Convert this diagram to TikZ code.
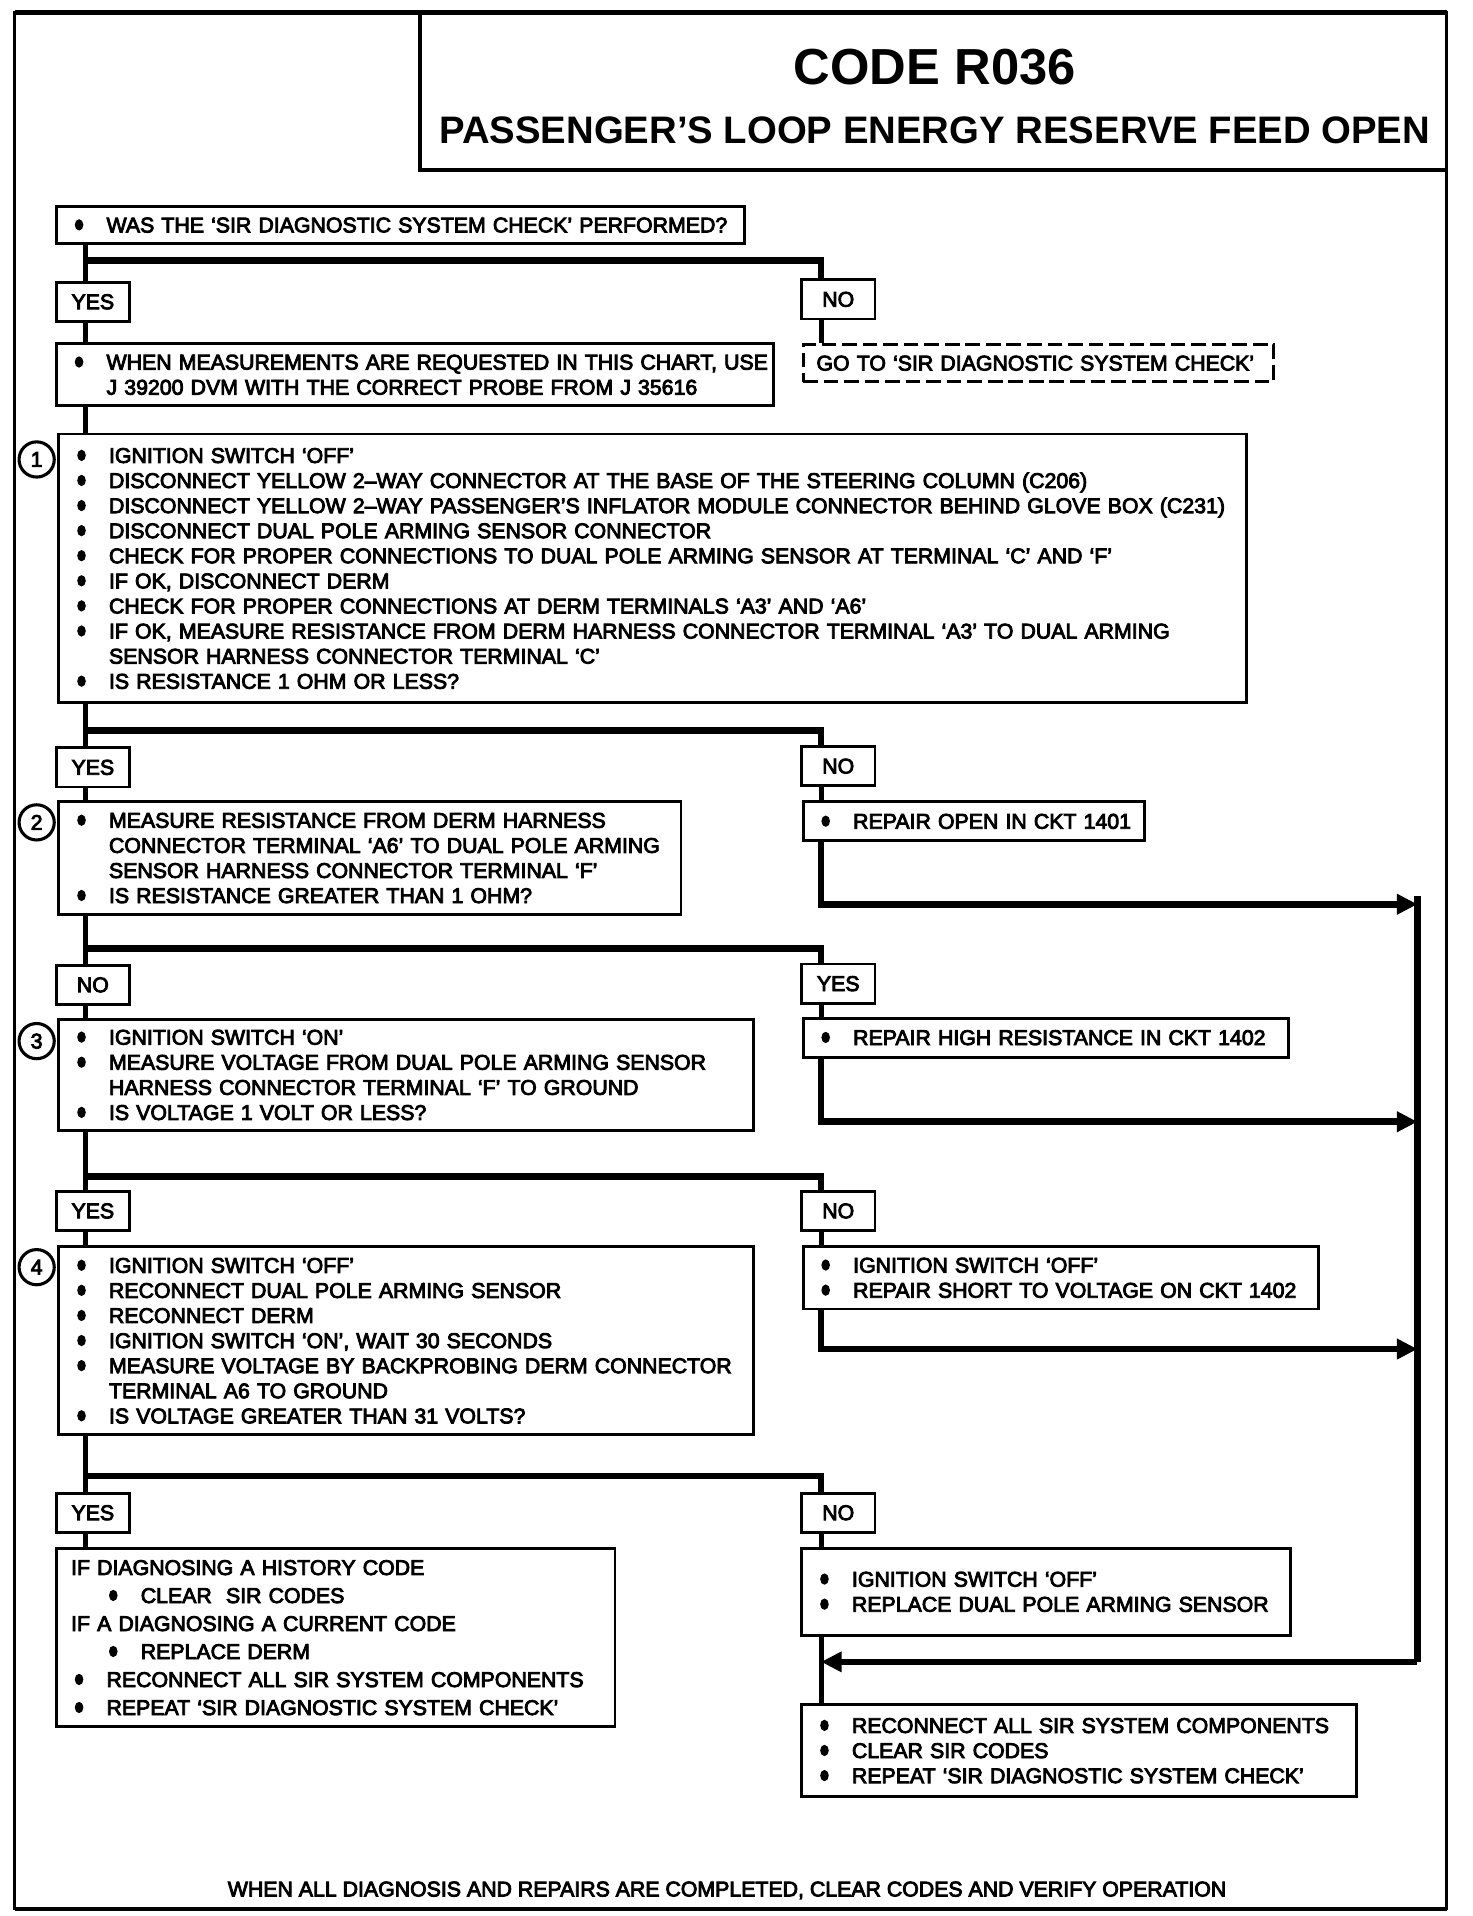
\documentclass[tikz,border=0pt]{standalone}
\usepackage{fontspec}
\setmainfont{Liberation Sans}
\newfontfamily\chartfont{Liberation Sans}[FakeBold=4]
\usetikzlibrary{arrows.meta}

\newcommand{\bodyfont}{\chartfont\fontsize{12.4}{14.6}\selectfont}
\newcommand{\dotmark}{\tikz[baseline=0pt]\fill (0,0) (2.5pt,4.4pt) ellipse [x radius=2.5pt, y radius=3.3pt];}
\newcommand{\bitem}[1]{\mbox{\makebox[0.65cm][l]{\dotmark}#1}}
\newcommand{\bnext}[1]{\mbox{\hspace*{0.65cm}#1}}

\begin{document}
\begin{tikzpicture}[x=0.025cm, y=-0.025cm,
  box/.style={draw, line width=1.7pt, anchor=north west, align=left,
    inner xsep=0.375cm, inner ysep=0pt, font=\bodyfont},
  answer/.style={draw, line width=1.6pt, minimum width=1.5cm,
    minimum height=0.8cm, inner sep=0pt, font=\bodyfont},
  stepnum/.style={draw, circle, line width=1.8pt, minimum size=0.72cm,
    inner sep=0pt, font=\bodyfont},
  trunk/.style={line width=2.8pt},
  branch/.style={line width=3.8pt},
  rail/.style={line width=3.6pt},
  arr/.style={-{Triangle[length=0.42cm,width=0.4cm]}}]

  \useasboundingbox (0,0) rectangle (1205,1568);

  % frame and title
  \draw[line width=1.6pt] (12,10) rectangle (1184,1562);
  \draw[line width=2.9pt] (12,10) -- (1184,10);
  \draw[line width=2.2pt] (12,1562) -- (1184,1562);
  \draw[line width=2.4pt] (344,10) -- (344,139) -- (1184,139);
  \node[font=\fontsize{29.5}{32}\selectfont\bfseries] (code) at (765,55) {CODE R036};
  \node[font=\fontsize{22.3}{25}\selectfont\bfseries] (title) at (765,107)
    {PASSENGER’S LOOP ENERGY RESERVE FEED OPEN};

  \coordinate (tk) at (70,0);
  \coordinate (nk) at (672,0);

  % start
  \node[box, text width=13.325cm, minimum height=0.75cm] (qa) at (45,168)
    {\bitem{WAS THE ‘SIR DIAGNOSTIC SYSTEM CHECK’ PERFORMED?}};
  \node[answer] (yes0) at (76,247) {YES};
  \node[answer] (no0) at (686,245) {NO};
  \node[box, text width=13.925cm, minimum height=1.275cm] (qb) at (45,280)
    {\bitem{WHEN MEASUREMENTS ARE REQUESTED IN THIS CHART, USE}\\
     \bnext{J 39200 DVM WITH THE CORRECT PROBE FROM J 35616}};
  \node[box, dash pattern=on 0.3cm off 0.12cm, inner xsep=0.275cm,
    text width=9.075cm, minimum height=0.75cm] (goto) at (656,281)
    {GO TO ‘SIR DIAGNOSTIC SYSTEM CHECK’};

  % step 1
  \node[box, text width=23.55cm, minimum height=5.5cm] (q1) at (47,354)
    {\bitem{IGNITION SWITCH ‘OFF’}\\
     \bitem{DISCONNECT YELLOW 2–WAY CONNECTOR AT THE BASE OF THE STEERING COLUMN (C206)}\\
     \bitem{DISCONNECT YELLOW 2–WAY PASSENGER’S INFLATOR MODULE CONNECTOR BEHIND GLOVE BOX (C231)}\\
     \bitem{DISCONNECT DUAL POLE ARMING SENSOR CONNECTOR}\\
     \bitem{CHECK FOR PROPER CONNECTIONS TO DUAL POLE ARMING SENSOR AT TERMINAL ‘C’ AND ‘F’}\\
     \bitem{IF OK, DISCONNECT DERM}\\
     \bitem{CHECK FOR PROPER CONNECTIONS AT DERM TERMINALS ‘A3’ AND ‘A6’}\\
     \bitem{IF OK, MEASURE RESISTANCE FROM DERM HARNESS CONNECTOR TERMINAL ‘A3’ TO DUAL ARMING}\\
     \bnext{SENSOR HARNESS CONNECTOR TERMINAL ‘C’}\\
     \bitem{IS RESISTANCE 1 OHM OR LESS?}};
  \node[stepnum] (n1) at (30,376) {1};
  \node[answer] (yes1) at (76,628) {YES};
  \node[answer] (no1) at (686,627) {NO};
  \node[box, text width=6.225cm, minimum height=0.8cm] (fix1) at (656,655)
    {\bitem{REPAIR OPEN IN CKT 1401}};

  % step 2
  \node[box, text width=11.975cm, minimum height=2.3cm] (q2) at (47,655)
    {\bitem{MEASURE RESISTANCE FROM DERM HARNESS}\\
     \bnext{CONNECTOR TERMINAL ‘A6’ TO DUAL POLE ARMING}\\
     \bnext{SENSOR HARNESS CONNECTOR TERMINAL ‘F’}\\
     \bitem{IS RESISTANCE GREATER THAN 1 OHM?}};
  \node[stepnum] (n2) at (30,673) {2};
  \node[answer] (no2) at (76,806) {NO};
  \node[answer] (yes2) at (686,805) {YES};
  \node[box, text width=9.175cm, minimum height=0.8cm] (fix2) at (656,832)
    {\bitem{REPAIR HIGH RESISTANCE IN CKT 1402}};

  % step 3
  \node[box, text width=13.45cm, minimum height=2.275cm] (q3) at (47,833)
    {\bitem{IGNITION SWITCH ‘ON’}\\
     \bitem{MEASURE VOLTAGE FROM DUAL POLE ARMING SENSOR}\\
     \bnext{HARNESS CONNECTOR TERMINAL ‘F’ TO GROUND}\\
     \bitem{IS VOLTAGE 1 VOLT OR LESS?}};
  \node[stepnum] (n3) at (30,852) {3};
  \node[answer] (yes3) at (76,991) {YES};
  \node[answer] (no3) at (686,991) {NO};
  \node[box, text width=9.8cm, minimum height=1.275cm] (fix3) at (656,1019)
    {\bitem{IGNITION SWITCH ‘OFF’}\\
     \bitem{REPAIR SHORT TO VOLTAGE ON CKT 1402}};

  % step 4
  \node[box, text width=13.45cm, minimum height=3.85cm] (q4) at (47,1019)
    {\bitem{IGNITION SWITCH ‘OFF’}\\
     \bitem{RECONNECT DUAL POLE ARMING SENSOR}\\
     \bitem{RECONNECT DERM}\\
     \bitem{IGNITION SWITCH ‘ON’, WAIT 30 SECONDS}\\
     \bitem{MEASURE VOLTAGE BY BACKPROBING DERM CONNECTOR}\\
     \bnext{TERMINAL A6 TO GROUND}\\
     \bitem{IS VOLTAGE GREATER THAN 31 VOLTS?}};
  \node[stepnum] (n4) at (30,1037) {4};
  \node[answer] (yes4) at (76,1238) {YES};
  \node[answer] (no4) at (686,1238) {NO};

  % outcomes
  \node[box, inner xsep=0.3cm, text width=10.825cm, minimum height=3.65cm,
    font=\chartfont\fontsize{12.4}{16.3}\selectfont] (keep) at (45,1266)
    {IF DIAGNOSING A HISTORY CODE\\
     \hspace*{0.775cm}\bitem{CLEAR\ \ SIR CODES}\\
     IF A DIAGNOSING A CURRENT CODE\\
     \hspace*{0.775cm}\bitem{REPLACE DERM}\\
     \hspace*{0.075cm}\bitem{RECONNECT ALL SIR SYSTEM COMPONENTS}\\
     \hspace*{0.075cm}\bitem{REPEAT ‘SIR DIAGNOSTIC SYSTEM CHECK’}};
  \node[box, text width=9.25cm, minimum height=1.775cm] (fix4) at (655,1266)
    {\bitem{IGNITION SWITCH ‘OFF’}\\
     \bitem{REPLACE DUAL POLE ARMING SENSOR}\\[0.2cm]};
  \node[box, text width=10.6cm, minimum height=1.875cm] (done) at (655,1394)
    {\bitem{RECONNECT ALL SIR SYSTEM COMPONENTS}\\
     \bitem{CLEAR SIR CODES}\\
     \bitem{REPEAT ‘SIR DIAGNOSTIC SYSTEM CHECK’}};

  \node[font=\bodyfont] (foot) at (595,1547)
    {WHEN ALL DIAGNOSIS AND REPAIRS ARE COMPLETED, CLEAR CODES AND VERIFY OPERATION};

  % main line
  \draw[trunk] (qa.south -| tk) -- (yes0.north -| tk);
  \draw[trunk] (yes0.south -| tk) -- (qb.north -| tk);
  \draw[trunk] (qb.south -| tk) -- (q1.north -| tk);
  \draw[trunk] (q1.south -| tk) -- (yes1.north -| tk);
  \draw[trunk] (yes1.south -| tk) -- (q2.north -| tk);
  \draw[trunk] (q2.south -| tk) -- (no2.north -| tk);
  \draw[trunk] (no2.south -| tk) -- (q3.north -| tk);
  \draw[trunk] (q3.south -| tk) -- (yes3.north -| tk);
  \draw[trunk] (yes3.south -| tk) -- (q4.north -| tk);
  \draw[trunk] (q4.south -| tk) -- (yes4.north -| tk);
  \draw[trunk] (yes4.south -| tk) -- (keep.north -| tk);

  % branches
  \coordinate (b0) at (70,213);
  \coordinate (b1) at (70,598);
  \coordinate (b2) at (70,776);
  \coordinate (b3) at (70,963);
  \coordinate (b4) at (70,1208);
  \draw[branch] (b0) -| (no0.north -| nk);
  \draw[branch] (b1) -| (no1.north -| nk);
  \draw[branch] (b2) -| (yes2.north -| nk);
  \draw[branch] (b3) -| (no3.north -| nk);
  \draw[branch] (b4) -| (no4.north -| nk);
  \draw[trunk] (no0.south -| nk) -- (goto.north -| nk);
  \draw[trunk] (no1.south -| nk) -- (fix1.north -| nk);
  \draw[trunk] (yes2.south -| nk) -- (fix2.north -| nk);
  \draw[trunk] (no3.south -| nk) -- (fix3.north -| nk);
  \draw[trunk] (no4.south -| nk) -- (fix4.north -| nk);

  % return rail
  \coordinate (r1) at (1160,740);
  \coordinate (r2) at (1160,918);
  \coordinate (r3) at (1160,1104);
  \coordinate (r4) at (1160,1360);
  \draw[branch, arr] (fix1.south -| nk) |- (r1);
  \draw[branch, arr] (fix2.south -| nk) |- (r2);
  \draw[branch, arr] (fix3.south -| nk) |- (r3);
  \draw[rail] (1160,733) -- (r4);
  \draw[branch, arr] (r4) -- (r4 -| nk);
  \draw[trunk] (fix4.south -| nk) -- (done.north -| nk);

\end{tikzpicture}
\end{document}
